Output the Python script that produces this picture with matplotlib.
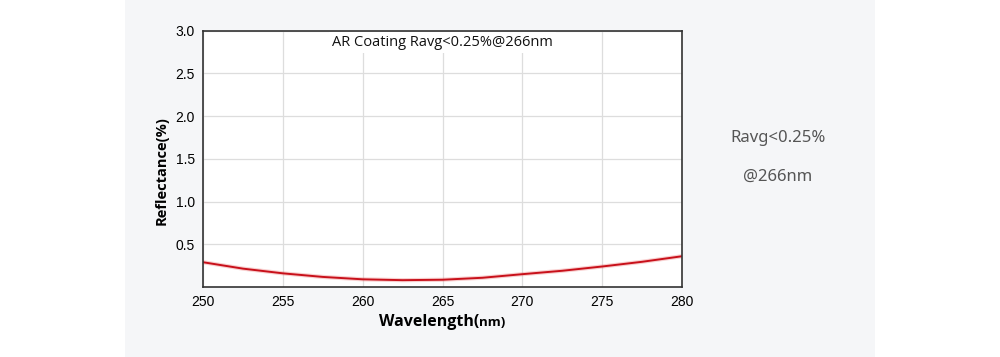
import matplotlib.pyplot as plt
from matplotlib.patches import Rectangle

# data
wavelength = [250, 252.5, 255, 257.5, 260, 262.5, 265, 267.5, 270, 272.5, 275, 277.5, 280]
reflectance = [0.29, 0.215, 0.16, 0.118, 0.09, 0.08, 0.085, 0.108, 0.15, 0.19, 0.24, 0.295, 0.36]
xticks = [250, 255, 260, 265, 270, 275, 280]
yticks = [0.5, 1.0, 1.5, 2.0, 2.5, 3.0]

fig = plt.figure(figsize=(10, 3.57), dpi=100)
fig.patch.set_facecolor("white")
fig.patches.append(Rectangle((0.125, 0), 0.75, 1, transform=fig.transFigure,
                             facecolor="#f5f6f8", edgecolor="none", zorder=-10))

ax = fig.add_axes([0.203, 1 - 287 / 357, 0.479, (287 - 30.7) / 357])
ax.set_facecolor("white")

ax.plot(wavelength, reflectance, color="#e86060", lw=3.0, alpha=0.3, solid_capstyle="butt")
ax.plot(wavelength, reflectance, color="#c8101a", lw=1.4)

ax.set_xlim(250, 280)
ax.set_ylim(0, 3.0)
ax.set_xticks(xticks)
ax.set_yticks(yticks)
ax.grid(color="#dddddd", lw=0.9)
ax.set_axisbelow(True)
ax.tick_params(length=0, labelsize=10, pad=6)
for lab in ax.get_xticklabels() + ax.get_yticklabels():
    lab.set_family("Liberation Sans")
for s in ax.spines.values():
    s.set_color("#333333")
    s.set_linewidth(1.2)

ax.text(0.5, 0.955, "AR Coating Ravg<0.25%@266nm", transform=ax.transAxes,
        ha="center", va="center", fontsize=10.5, family="Open Sans", color="#111111",
        bbox=dict(facecolor="white", edgecolor="none", pad=2))

# axis labels placed by hand
fig.text(0.162, 1 - 171 / 357, "Reflectance(%)", rotation=90, ha="center", va="center",
         fontsize=10.5, fontweight="bold", family="Open Sans")
t1 = fig.text(0.379, 1 - 322 / 357, "Wavelength(", ha="left", va="center", fontsize=11.5,
              fontweight="bold", family="Open Sans")
fig.canvas.draw()
bb = t1.get_window_extent()
fig.text(bb.x1 / fig.bbox.width, 1 - 322 / 357, "nm)", ha="left", va="center", fontsize=9.5,
         fontweight="bold", family="Open Sans")

fig.text(0.778, 1 - 138 / 357, "Ravg<0.25%", ha="center", va="center", fontsize=12,
         family="Noto Sans", color="#555555")
fig.text(0.778, 1 - 177 / 357, "@266nm", ha="center", va="center", fontsize=12,
         family="Noto Sans", color="#555555")

fig.savefig("out.png", dpi=100)
